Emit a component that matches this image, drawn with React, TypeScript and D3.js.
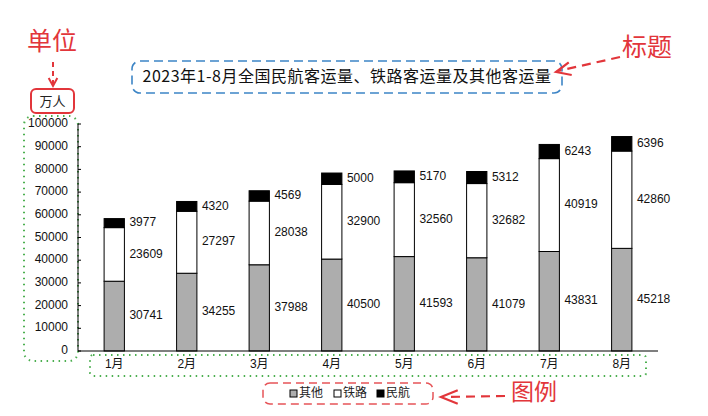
import * as d3 from 'd3';

const months = ['1月', '2月', '3月', '4月', '5月', '6月', '7月', '8月'];
const other = [30741, 34255, 37988, 40500, 41593, 41079, 43831, 45218];
const rail = [23609, 27297, 28038, 32900, 32560, 32682, 40919, 42860];
const air = [3977, 4320, 4569, 5000, 5170, 5312, 6243, 6396];
const seriesKeys = ['其他', '铁路', '民航'];
const seriesFill = ['#adadad', '#ffffff', '#000000'];
const yTicks = d3.range(0, 100001, 10000);

const title = '2023年1-8月全国民航客运量、铁路客运量及其他客运量';
const unit = '万人';

const RED = '#e2363b';
const FONT = '"Liberation Sans", Arial, "Noto Sans CJK SC", sans-serif';
const CJK = '"Noto Sans CJK SC", sans-serif';

const rows = months.map((m, i) => ({ month: m, 其他: other[i], 铁路: rail[i], 民航: air[i] }));

export default function App() {
    const width = 708;
    const height = 416;

    const x = d3.scaleBand<string>()
        .domain(months)
        .range([78, 658])
        .paddingInner(0.72)
        .paddingOuter(0.36);

    const y = d3.scaleLinear()
        .domain([0, 100000])
        .range([351, 124]);

    const stacked = d3.stack<any>().keys(seriesKeys)(rows);

    // little helper for the hand drawn arrows
    const arrowHead = (tx: number, ty: number, ang: number, len = 12, spread = 0.45) => {
        const a1 = ang + Math.PI - spread;
        const a2 = ang + Math.PI + spread;
        return `M${tx + len * Math.cos(a1)},${ty + len * Math.sin(a1)}L${tx},${ty}L${tx + len * Math.cos(a2)},${ty + len * Math.sin(a2)}`;
    };

    const legendX = [290, 334, 377];

    return (
        <svg width={width} height={height} style={{ position: 'absolute', left: 0, top: 0, background: '#fff' }}>
            {/* title */}
            <rect x={132} y={61} width={430} height={32} rx={8} fill="none" stroke="#3d85c6" strokeWidth={1.6} strokeDasharray="9 5" />
            <text x={347} y={78} textAnchor="middle" dominantBaseline="middle" fontFamily={CJK} fontSize={16} letterSpacing={0.5} fill="#111">{title}</text>

            {/* annotations */}
            <text x={52} y={43} textAnchor="middle" dominantBaseline="middle" fontFamily={CJK} fontSize={25} fill={RED}>单位</text>
            <path d="M53,62L53,84" stroke={RED} strokeWidth={2} strokeDasharray="5 4" fill="none" />
            <path d={arrowHead(53, 86, Math.PI / 2, 9, 0.5)} stroke={RED} strokeWidth={2} fill="none" />
            <rect x={31} y={89} width={43} height={24} rx={5} fill="none" stroke={RED} strokeWidth={2} />
            <text x={52.5} y={102} textAnchor="middle" dominantBaseline="middle" fontFamily={CJK} fontSize={13} fill="#222">{unit}</text>

            <text x={647} y={49} textAnchor="middle" dominantBaseline="middle" fontFamily={CJK} fontSize={25} fill={RED}>标题</text>
            <path d="M620,57L558,71" stroke={RED} strokeWidth={2.2} strokeDasharray="9 6" fill="none" />
            <path d={arrowHead(556, 72, Math.atan2(72 - 57, 556 - 620), 16, 0.42)} stroke={RED} strokeWidth={2.2} fill="none" />

            <text x={534} y={400} textAnchor="middle" fontFamily={CJK} fontSize={23} fill={RED}>图例</text>
            <path d="M505,396L445,397" stroke={RED} strokeWidth={2.2} strokeDasharray="9 6" fill="none" />
            <path d={arrowHead(441, 397, Math.PI, 18, 0.38)} stroke={RED} strokeWidth={2.2} fill="none" />

            {/* dotted boxes around axes labels */}
            <rect x={24} y={116} width={54} height={245} rx={9} fill="none" stroke="#4caf50" strokeWidth={2} strokeDasharray="1.5 4.5" />
            <rect x={90} y={355} width={556} height={21} rx={3} fill="none" stroke="#4caf50" strokeWidth={2} strokeDasharray="1.5 4.5" />

            {/* bars */}
            {stacked.map((s, si) => (
                <g key={s.key}>
                    {s.map((d, i) => (
                        <rect key={i}
                            x={x(months[i])}
                            y={y(d[1])}
                            width={x.bandwidth()}
                            height={y(d[0]) - y(d[1])}
                            fill={seriesFill[si]}
                            stroke="#000"
                            strokeWidth={1} />
                    ))}
                    {s.map((d, i) => (
                        <text key={'l' + i}
                            x={(x(months[i]) as number) + x.bandwidth() + 5}
                            y={(y(d[0]) + y(d[1])) / 2}
                            dominantBaseline="middle"
                            fontFamily={FONT}
                            fontSize={12}
                            fill="#111">{d.data[s.key]}</text>
                    ))}
                </g>
            ))}

            {/* y axis */}
            <line x1={78} x2={78} y1={y(100000)} y2={y(0)} stroke="#000" strokeWidth={1} />
            {yTicks.map(t => (
                <g key={t}>
                    <line x1={78} x2={81} y1={y(t)} y2={y(t)} stroke="#000" />
                    <text x={68} y={y(t)} textAnchor="end" dominantBaseline="middle" fontFamily={FONT} fontSize={12} fill="#111">{t}</text>
                </g>
            ))}

            {/* x axis */}
            <line x1={78} x2={658} y1={y(0)} y2={y(0)} stroke="#000" strokeWidth={1.2} />
            {months.map(m => (
                <text key={m} x={(x(m) as number) + x.bandwidth() / 2} y={365} textAnchor="middle" dominantBaseline="middle" fontFamily={FONT} fontSize={12} fill="#111">{m}</text>
            ))}

            {/* legend */}
            <rect x={263} y={383} width={170} height={21} rx={7} fill="none" stroke={RED} strokeWidth={1.5} strokeDasharray="8 5" opacity={0.85} />
            {seriesKeys.map((k, i) => (
                <g key={k}>
                    <rect x={legendX[i]} y={390} width={7} height={7} fill={seriesFill[i]} stroke="#000" strokeWidth={1} />
                    <text x={legendX[i] + 9} y={394} dominantBaseline="middle" fontFamily={CJK} fontSize={12} fill="#222">{k}</text>
                </g>
            ))}
        </svg>
    );
}
